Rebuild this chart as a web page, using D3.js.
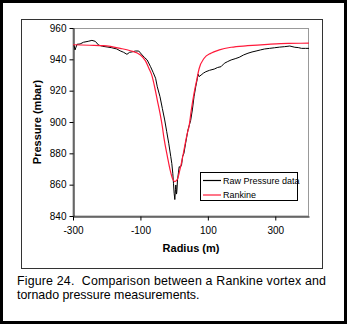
<!DOCTYPE html>
<html><head><meta charset="utf-8">
<script src="https://cdn.jsdelivr.net/npm/d3@7"></script>
<style>
html,body{margin:0;padding:0;background:#fff;}
svg{display:block;font-family:"Liberation Sans",Arial,sans-serif;}
</style></head>
<body>
<svg id="c" width="347" height="324"></svg>
<script>
// Data
const rawRadius = [-297,-294,-288,-279,-269,-255,-244,-234,-224,-212,-199,-185,-170,-160,-150,-140,-132,-124,-115,-105,-95,-88,-80,-70,-62,-55,-50,-42,-35,-28,-22,-16,-10,-7,-4,-2,0,2,4,5,7,8,10,13,15,18,22,25,29,34,41,45,49,54,59,64,69,71,74,80,87,94,105,119,129,139,149,159,169,181,193,206,219,231,243,256,268,283,298,313,328,343,358,368,378,390,400];
const rawPressure = [949,946,949.6,949.8,950.9,951.5,952.1,951.5,949.1,948.3,947.9,947.4,946.6,945.4,944.5,943.2,944.5,944.8,945.3,945.3,942.8,941.2,939.6,935.3,931.5,927.9,922.5,916.2,908.7,901.3,893.8,886.4,877.9,873.6,867.3,860.9,854.5,850.5,857,859.8,854,855.5,863,868,871.5,871,872.6,877.9,880,886.4,894.9,898,901,907.7,916.2,922.5,927.9,930.5,929,930,931.2,932.1,933,933.8,934.8,935.3,937.5,938.6,939.6,940.4,941.3,942.8,943.9,944.7,945.3,946,946.6,947,947.4,947.8,948.1,948.5,947.7,947.5,947,947,947];
const rankineRadius = [-300,-250,-210,-160,-130,-100,-85,-75,-65,-58,-50,-42,-35,-30,-20,-12,-5,1.5,9.5,17,24.5,31,39,44,51,59,67,74,89,109,134,169,218,278,338,400];
const rankinePressure = [949.3,949,948.7,947,945.5,942.8,939,934.3,929,922.5,914,905.6,897,889.5,877.9,869.4,864,862,863.4,869.4,876.8,884.2,892.8,897,907.7,918.3,926.8,934,940.7,943.9,946,947.7,948.7,949.6,950.2,950.3];
const yTicks = [840,860,880,900,920,940,960];
const xTicks = [-300,-100,100,300];
const seriesNames = ["Raw Pressure data","Rankine"];
const seriesColors = ["#000000","#ff1a3a"];
const captionLines = ["Figure 24.  Comparison between a Rankine vortex and","tornado pressure measurements."];

const svg = d3.select("#c");
// outer black border
svg.append("rect").attr("x",1.5).attr("y",1.5).attr("width",344).attr("height",321)
  .attr("fill","#fff").attr("stroke","#000").attr("stroke-width",3);
// chart frame
svg.append("rect").attr("x",21.5).attr("y",19.5).attr("width",301).attr("height",249)
  .attr("fill","#fff").attr("stroke","#333").attr("stroke-width",1);

const x = d3.scaleLinear().domain([-300,400]).range([73,309]);
const y = d3.scaleLinear().domain([840,960]).range([216,28]);

// plot area border (gray)
svg.append("rect").attr("x",73).attr("y",28.5).attr("width",235.5).attr("height",187.5)
  .attr("fill","none").attr("stroke","#999").attr("stroke-width",1);

const fmt = d => String(d);
const yAxis = svg.append("g").attr("transform","translate(73.5,0)")
  .call(d3.axisLeft(y).tickValues(yTicks).tickFormat(fmt).tickSize(4).tickSizeOuter(0).tickPadding(3));
const xAxis = svg.append("g").attr("transform","translate(0,216.5)")
  .call(d3.axisBottom(x).tickValues(xTicks).tickFormat(fmt).tickSize(4).tickSizeOuter(0).tickPadding(6));
[yAxis,xAxis].forEach(a=>{
  a.selectAll("text").attr("font-size","10px").attr("fill","#000")
   .attr("font-family","'Liberation Sans',Arial,sans-serif");
  a.select(".domain").attr("stroke","#000");
  a.selectAll(".tick line").attr("stroke","#000");
});

const line = d3.line().x(d=>x(d[0])).y(d=>y(d[1]));
const clip = svg.append("defs").append("clipPath").attr("id","pc");
clip.append("rect").attr("x",73).attr("y",20).attr("width",236).attr("height",200);

const g = svg.append("g").attr("clip-path","url(#pc)");
g.append("path").datum(d3.zip(rawRadius,rawPressure)).attr("d",line)
  .attr("fill","none").attr("stroke",seriesColors[0]).attr("stroke-width",1);
g.append("path").datum(d3.zip(rankineRadius,rankinePressure)).attr("d",line.curve(d3.curveMonotoneX))
  .attr("fill","none").attr("stroke",seriesColors[1]).attr("stroke-width",1.2);

// legend
const lg = svg.append("g");
lg.append("rect").attr("x",200.5).attr("y",172.5).attr("width",97).attr("height",28)
  .attr("fill","#fff").attr("stroke","#000").attr("stroke-width",1);
seriesNames.forEach((n,i)=>{
  const yy = 180.5 + i*14.5;
  lg.append("line").attr("x1",203).attr("x2",221).attr("y1",yy).attr("y2",yy)
    .attr("stroke",seriesColors[i]).attr("stroke-width",1.2);
  lg.append("text").attr("x",223).attr("y",yy+3.3).attr("font-size","9px").text(n);
});

// axis titles
svg.append("text").attr("x",191).attr("y",252).attr("text-anchor","middle")
  .attr("font-size","11px").attr("font-weight","bold").text("Radius (m)");
svg.append("text").attr("transform","translate(41,122) rotate(-90)").attr("text-anchor","middle")
  .attr("font-size","11px").attr("font-weight","bold").text("Pressure (mbar)");

// caption
svg.append("text").attr("x",17).attr("y",285).attr("font-size","12.4px")
  .attr("textLength",309).attr("lengthAdjust","spacing").attr("xml:space","preserve")
  .style("white-space","pre").text(captionLines[0]);
svg.append("text").attr("x",17).attr("y",299).attr("font-size","12.4px").text(captionLines[1]);
</script>
</body></html>
